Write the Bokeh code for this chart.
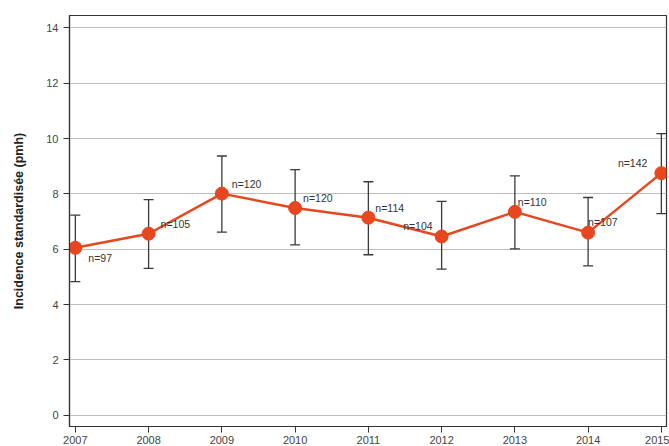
from bokeh.plotting import figure
from bokeh.models import ColumnDataSource, Whisker, TeeHead, FixedTicker, Range1d
from bokeh.core.properties import value
from bokeh.embed import file_html
from bokeh.resources import INLINE

years = [2007, 2008, 2009, 2010, 2011, 2012, 2013, 2014, 2015]
incidence = [6.05, 6.56, 8.01, 7.49, 7.14, 6.46, 7.35, 6.60, 8.75]
ci_upper = [7.23, 7.79, 9.37, 8.88, 8.44, 7.73, 8.65, 7.87, 10.18]
ci_lower = [4.83, 5.31, 6.62, 6.16, 5.80, 5.28, 6.01, 5.40, 7.29]
n_cases = [97, 105, 120, 120, 114, 104, 110, 107, 142]
y_ticks = [0, 2, 4, 6, 8, 10, 12, 14]
y_label = "Incidence standardisée (pmh)"

# label placement (pixels, style only)
lab_dx = [13, 12, 10, 8, 7, -9, 3, 0, -14]
lab_dy = [10, -10, -10, -10, -10, -10, -10, -11, -10]
lab_align = ["left", "left", "left", "left", "left", "right", "left", "left", "right"]

src = ColumnDataSource(dict(
    x=years, y=incidence, up=ci_upper, lo=ci_lower,
    lab=["n=%d" % n for n in n_cases],
    dx=lab_dx, dy=lab_dy, al=lab_align,
))

FONT = "Liberation Sans"
GRAY = "#444444"

p = figure(width=669, height=446, output_backend="svg", toolbar_location=None,
           x_range=Range1d(2006.92, 2015.07), y_range=Range1d(-0.41, 14.45),
           min_border_left=69, min_border_top=15, min_border_right=3, min_border_bottom=20)

p.outline_line_color = "#333333"
p.outline_line_width = 1.2
p.background_fill_color = "white"
p.border_fill_color = "white"

p.xgrid.grid_line_color = None
p.ygrid.grid_line_color = "#bdbdbd"
p.ygrid.grid_line_width = 1.2

for ax in (p.xaxis[0], p.yaxis[0]):
    ax.axis_line_color = "#333333"
    ax.axis_line_width = 1.2
    ax.major_tick_line_color = "#333333"
    ax.major_tick_out = 6
    ax.major_tick_in = 0
    ax.minor_tick_line_color = None
    ax.major_label_text_font = FONT
    ax.major_label_text_font_size = "11px"
    ax.major_label_text_color = GRAY
    ax.major_label_standoff = 5

p.xaxis.major_label_standoff = 3
p.xaxis.ticker = FixedTicker(ticks=years)
p.yaxis.ticker = FixedTicker(ticks=y_ticks)
p.yaxis.axis_label = y_label
p.yaxis.axis_label_text_font = FONT
p.yaxis.axis_label_text_font_size = "12.5px"
p.yaxis.axis_label_text_font_style = "bold"
p.yaxis.axis_label_text_color = "#222222"
p.yaxis.axis_label_standoff = 17

w = Whisker(source=src, base="x", upper="up", lower="lo",
            line_color="#3a3a3a", line_width=1.3,
            upper_head=TeeHead(size=10, line_color="#3a3a3a", line_width=1.3),
            lower_head=TeeHead(size=10, line_color="#3a3a3a", line_width=1.3))
p.add_layout(w)

p.line("x", "y", source=src, line_color="#e8461e", line_width=2.5)
p.scatter("x", "y", source=src, size=13, fill_color="#e8461e", line_color="#e8461e")

p.text("x", "y", text="lab", source=src, x_offset="dx", y_offset="dy",
       text_align="al", text_baseline="middle",
       text_font=value(FONT), text_font_size="10.5px", text_color="#333333")

open("out.html", "w").write(file_html(p, INLINE))
